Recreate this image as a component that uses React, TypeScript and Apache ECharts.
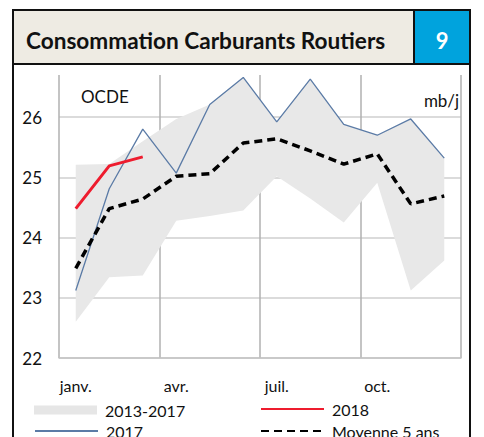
import React, { useEffect, useRef } from "react";
import * as echarts from "echarts";

const months = ["janv.", "févr.", "mars", "avr.", "mai", "juin", "juil.", "août", "sept.", "oct.", "nov.", "déc."];
const bandLow = [22.6, 23.34, 23.37, 24.28, 24.36, 24.45, 25.02, 24.65, 24.25, 24.91, 23.12, 23.62];
const bandHigh = [25.21, 25.22, 25.6, 25.97, 26.21, 26.66, 25.92, 26.63, 25.88, 25.7, 25.97, 25.32];
const s2017 = [23.12, 24.81, 25.8, 25.07, 26.21, 26.66, 25.92, 26.63, 25.88, 25.7, 25.97, 25.32];
const s2018 = [24.48, 25.19, 25.34];
const avg5 = [23.49, 24.48, 24.64, 25.02, 25.06, 25.57, 25.64, 25.44, 25.22, 25.39, 24.56, 24.69];
const yTicks = { min: 22, max: 26.7, interval: 1 };

const FONT = "Lato, 'Noto Sans', sans-serif";

function legendAt(name: string, left: number, top: number, item: any = {}, itemHeight = 12) {
  return {
    left,
    top,
    padding: 0,
    itemWidth: 63,
    itemHeight,
    textStyle: { fontSize: 16, color: "#111", fontFamily: FONT, padding: [0, 0, 0, 3] },
    data: [{ name, itemStyle: { opacity: 0 }, ...item }],
  };
}

export default function App() {
  const ref = useRef<HTMLDivElement>(null);
  useEffect(() => {
    document.body.style.margin = "0";
    const chart = echarts.init(ref.current!, null, { renderer: "svg" });
    const bandDiff = bandHigh.map((h, i) => +(h - bandLow[i]).toFixed(3));
    chart.setOption({
      animation: false,
      backgroundColor: "#ffffff",
      textStyle: { fontFamily: FONT },
      grid: { left: 59, right: 23, top: 75, bottom: 79 },
      xAxis: {
        type: "category",
        data: months,
        boundaryGap: true,
        axisLine: { show: true, lineStyle: { color: "#c4c4c4", width: 1.5 } },
        axisTick: { show: false },
        splitLine: { show: true, interval: 2, lineStyle: { color: "#b0b0b0", width: 1.5 } },
        axisLabel: { interval: 2, color: "#111", fontSize: 16, margin: 19, fontFamily: FONT },
      },
      yAxis: {
        type: "value",
        min: yTicks.min,
        max: yTicks.max,
        interval: yTicks.interval,
        axisLine: { show: false },
        axisTick: { show: false },
        splitLine: { show: true, showMaxLine: false, lineStyle: { color: "#cfcfcf", width: 1.5 } },
        axisLabel: {
          color: "#111",
          fontSize: 17,
          margin: 17,
          fontFamily: FONT,
          formatter: (v: number) => (Number.isInteger(v) ? String(v) : ""),
        },
      },
      legend: [
        legendAt("2013-2017", 34, 402, { icon: "rect", itemStyle: { color: "#e6e6e6" } }, 9),
        legendAt("2017", 34, 423),
        legendAt("2018", 260, 401),
        legendAt("Moyenne 5 ans", 260, 423),
      ],
      graphic: [
        { type: "rect", shape: { x: 13, y: 10, width: 457, height: 440 }, style: { fill: "none", stroke: "#111", lineWidth: 2 }, z: 10 },
        { type: "rect", shape: { x: 13, y: 10, width: 401, height: 54 }, style: { fill: "#eeebe3", stroke: "#111", lineWidth: 2 }, z: 11 },
        { type: "rect", shape: { x: 414, y: 10, width: 56, height: 54 }, style: { fill: "#00a3dd", stroke: "#111", lineWidth: 2 }, z: 11 },
        {
          type: "text", x: 26, y: 40, z: 12,
          style: { text: "Consommation Carburants Routiers", font: `bold 22.6px ${FONT}`, fill: "#111", textVerticalAlign: "middle" },
        },
        {
          type: "text", x: 442, y: 40, z: 12,
          style: { text: "9", font: `bold 22px ${FONT}`, fill: "#ffffff", textAlign: "center", textVerticalAlign: "middle" },
        },
        {
          type: "text", x: 81, y: 96, z: 12,
          style: { text: "OCDE", font: `17px ${FONT}`, fill: "#111", textVerticalAlign: "middle" },
        },
        {
          type: "text", x: 459, y: 100, z: 12,
          style: { text: "mb/j", font: `17px ${FONT}`, fill: "#111", textAlign: "right", textVerticalAlign: "middle" },
        },
      ],
      series: [
        {
          name: "bandLow",
          type: "line",
          stack: "band",
          data: bandLow,
          showSymbol: false,
          symbol: "none",
          lineStyle: { opacity: 0 },
          silent: true,
          z: 1,
        },
        {
          name: "2013-2017",
          type: "line",
          stack: "band",
          data: bandDiff,
          symbol: "none",
          showSymbol: false,
          lineStyle: { opacity: 0 },
          itemStyle: { color: "#e6e6e6" },
          areaStyle: { color: "#e8e8e8", opacity: 1 },
          silent: true,
          z: 1,
        },
        {
          name: "2017",
          type: "line",
          data: s2017,
          symbol: "none",
          itemStyle: { color: "#5b7ba6" },
          lineStyle: { color: "#5b7ba6", width: 1.3 },
          z: 3,
        },
        {
          name: "Moyenne 5 ans",
          type: "line",
          data: avg5,
          symbol: "none",
          itemStyle: { color: "#000" },
          lineStyle: { color: "#000", width: 3.5, type: [8, 5] },
          z: 4,
        },
        {
          name: "2018",
          type: "line",
          data: s2018,
          symbol: "none",
          itemStyle: { color: "#ee1c2e" },
          lineStyle: { color: "#ee1c2e", width: 3 },
          z: 5,
        },
      ],
    });
    return () => chart.dispose();
  }, []);
  return <div ref={ref} style={{ width: 484, height: 437 }} />;
}
